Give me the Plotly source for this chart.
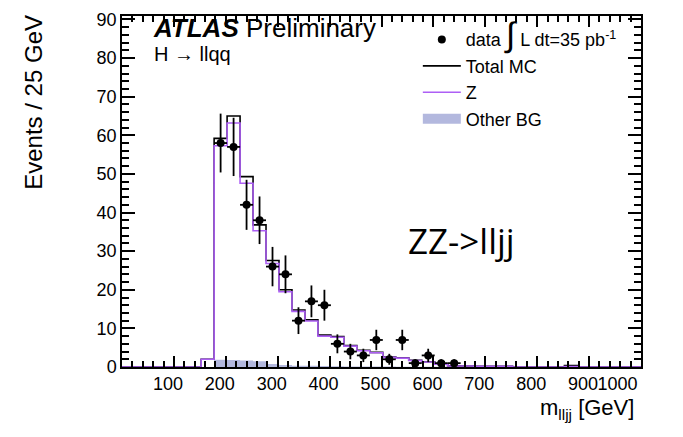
import numpy as np
import plotly.graph_objects as go

# ---- binning (25 GeV bins) ----
bin_width = 25.0
first_edge = 152.5          # left edge of the first filled MC bin
axis_min, axis_max = 0.0, 1000.0

# ---- MC expectations per bin (events / 25 GeV) ----
z_mc = [2.0, 57.3, 63.2, 47.6, 35.3, 26.8, 19.5, 14.4, 11.9, 8.0,
        7.7, 5.4, 4.2, 3.7, 2.5, 2.3, 1.7, 1.3, 0.7, 0.25,
        0.25, 0.2, 0.2, 0.2, 0.0, 0.0, 0.0, 0.0, 0.1]
other_bg = [0.0, 1.9, 1.8, 1.7, 1.5, 0.8, 0.5, 0.35, 0.3, 0.25,
            0.2, 0.15, 0.12, 0.1, 0.1, 0.08, 0.06, 0.05, 0.05, 0.03,
            0.0, 0.0, 0.0, 0.0, 0.0, 0.0, 0.0, 0.0, 0.3]

# ---- observed data ----
data_mass = [190, 215, 240, 265, 290, 315, 340, 365, 390, 415,
             440, 465, 490, 515, 540, 565, 590, 615, 640]
data_counts = [58, 57, 42, 38, 26, 24, 12, 17, 16, 6,
               4, 3, 7, 2, 7, 1, 3, 1, 1]

# ---- axis ticks ----
x_major_step, x_minor_step = 100, 20
y_major_step, y_minor_step = 10, 2
y_max = 90.9
# no "0" on the mass axis; last label pulled inside the frame
x_label_alias = {"0": " ", "1000": "1000" + "\u00a0" * 7}

total_mc = [z + o for z, o in zip(z_mc, other_bg)]


def step_xy(values):
    """Outline of a histogram spanning the full axis (ROOT-style, no inner bars)."""
    n = len(values)
    edges = [first_edge + i * bin_width for i in range(n + 1)]
    xs = [axis_min] + edges + [axis_max]
    ys = [0.0] + list(values) + [0.0, 0.0]
    return xs, ys


FONT = "Liberation Sans, Arial, Helvetica, sans-serif"
PURPLE = "#ad5ff5"
BG_FILL = "#b3b8de"

fig = go.Figure()

xo, yo = step_xy(other_bg)
fig.add_trace(go.Scatter(
    x=xo, y=yo, mode="lines", line=dict(shape="hv", width=0, color=BG_FILL),
    fill="tozeroy", fillcolor=BG_FILL, name="Other BG", showlegend=False,
    legendgroup="bg"))
# legend key for the filled background (wide box like the ROOT legend)
fig.add_trace(go.Scatter(
    x=[None], y=[None], mode="lines", line=dict(width=14, color=BG_FILL),
    name="Other BG", legendrank=4, legendgroup="bg"))

xt, yt = step_xy(total_mc)
fig.add_trace(go.Scatter(
    x=xt, y=yt, mode="lines", line=dict(shape="hv", width=1.6, color="black"),
    name="Total MC", legendrank=2))

xz, yz = step_xy(z_mc)
fig.add_trace(go.Scatter(
    x=xz, y=yz, mode="lines", line=dict(shape="hv", width=1.6, color=PURPLE),
    name="Z", legendrank=3))

fig.add_trace(go.Scatter(
    x=data_mass, y=data_counts, mode="markers",
    marker=dict(color="black", size=8, symbol="circle"),
    error_y=dict(type="data", array=np.sqrt(data_counts), color="black",
                 thickness=1.8, width=0),
    error_x=dict(type="constant", value=bin_width / 2, color="black",
                 thickness=1.8, width=0),
    name='data <span style="font-size:34px">∫</span> L dt=35 pb<sup>-1</sup>',
    legendrank=1))

axis_common = dict(
    showline=True, linecolor="black", linewidth=1.5, mirror="ticks",
    ticks="inside", tickcolor="black", tickwidth=1.5,
    showgrid=False, zeroline=False, tickangle=0,
    tickfont=dict(family=FONT, size=18, color="black"),
)

fig.update_layout(
    xaxis=dict(range=[axis_min, axis_max], tickmode="linear", tick0=0,
               dtick=x_major_step, labelalias=x_label_alias, ticklen=11,
               ticklabelshift=-6,
               minor=dict(tickmode="linear", tick0=0, dtick=x_minor_step,
                          ticks="inside", ticklen=6, tickcolor="black",
                          tickwidth=1.5, showgrid=False),
               **axis_common),
    yaxis=dict(range=[0, y_max], tickmode="linear", tick0=0,
               dtick=y_major_step, ticklen=13,
               minor=dict(tickmode="linear", tick0=0, dtick=y_minor_step,
                          ticks="inside", ticklen=7, tickcolor="black",
                          tickwidth=1.5, showgrid=False),
               **axis_common),
)

fig.update_layout(
    width=683, height=437,
    margin=dict(l=122, r=39, t=10, b=70),
    paper_bgcolor="white", plot_bgcolor="white",
    font=dict(family=FONT, color="black"),
    showlegend=True,
    legend=dict(x=0.57, y=0.985, xanchor="left", yanchor="top",
                bgcolor="rgba(0,0,0,0)", borderwidth=0,
                font=dict(family=FONT, size=18, color="black"),
                itemwidth=38, tracegroupgap=0),
    annotations=[
        dict(text="<b><i>ATLAS</i></b> Preliminary", xref="paper", yref="paper",
             x=0.055, y=0.966, xanchor="left", yanchor="middle", showarrow=False,
             font=dict(family=FONT, size=26, color="black")),
        dict(text="H → llqq", xref="paper", yref="paper",
             x=0.058, y=0.892, xanchor="left", yanchor="middle", showarrow=False,
             font=dict(family=FONT, size=20, color="black")),
        dict(text="ZZ->lljj", xref="paper", yref="paper",
             x=0.655, y=0.36, xanchor="center", yanchor="middle", showarrow=False,
             font=dict(family="Open Sans, sans-serif", size=35, color="black")),
        dict(text="Events / 25 GeV", xref="paper", yref="paper", textangle=-90,
             x=-0.17, y=1.01, xanchor="center", yanchor="top", showarrow=False,
             font=dict(family=FONT, size=24, color="black")),
        dict(text="m<sub>lljj</sub> [GeV]", xref="paper", yref="paper",
             x=0.99, y=-0.12, xanchor="right", yanchor="middle", showarrow=False,
             font=dict(family=FONT, size=22, color="black")),
    ],
)

fig.write_html("out.html")
